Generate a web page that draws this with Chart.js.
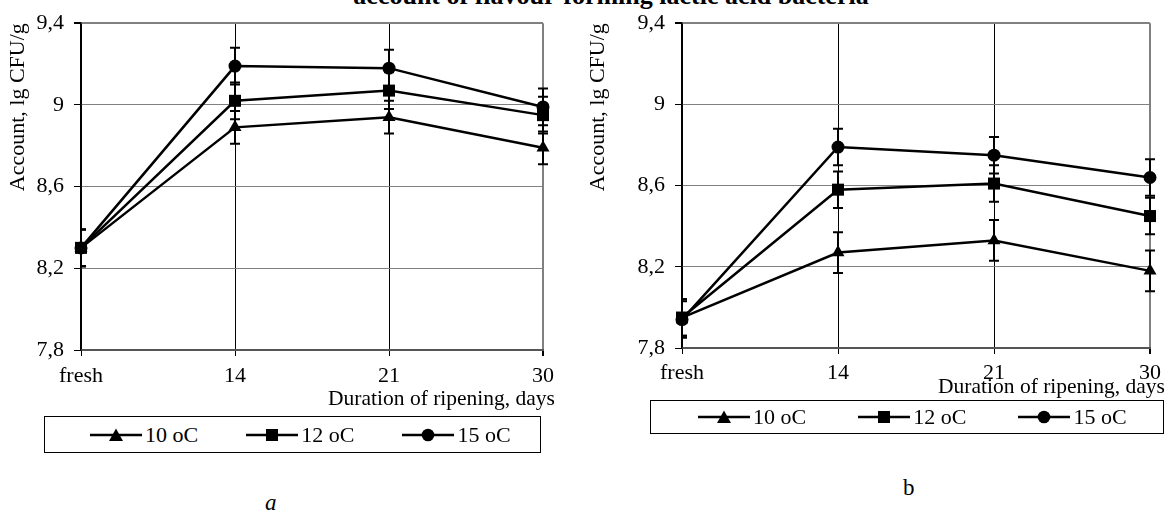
<!DOCTYPE html>
<html><head><meta charset="utf-8">
<script src="https://cdn.jsdelivr.net/npm/chart.js@4.4.1/dist/chart.umd.min.js"></script>
<style>
body{margin:0;width:1173px;height:531px;background:#fff;position:relative;overflow:hidden;font-family:"Liberation Serif","Times New Roman",serif;color:#000;}
canvas{position:absolute;}
.title{position:absolute;left:300px;width:622px;top:-19px;text-align:center;font-weight:bold;font-size:26px;white-space:nowrap;}
.xt{position:absolute;font-size:21.5px;white-space:nowrap;text-align:right;line-height:25px;}
.legend{position:absolute;box-sizing:border-box;border:1px solid #000;display:flex;align-items:center;font-size:22px;}
.item{display:flex;align-items:center;white-space:nowrap;}
.item svg{margin-right:3px;}
.cap{position:absolute;font-size:23px;}
</style></head><body>
<div class="title">account of flavour-forming lactic acid bacteria</div>
<canvas id="cA" width="575" height="410" style="left:0;top:0"></canvas>
<canvas id="cB" width="593" height="408" style="left:580px;top:0"></canvas>
<div class="xt" id="xtA" style="right:618px;top:386px"></div>
<div class="xt" id="xtB" style="right:8px;top:374px"></div>
<div class="legend" id="legA" style="left:44px;top:416px;width:497px;height:37px;gap:48px;padding-left:45px"></div>
<div class="legend" id="legB" style="left:650px;top:400px;width:514px;height:34px;gap:52px;padding-left:47px"></div>
<div class="cap" style="left:265px;top:490px;font-style:italic">a</div>
<div class="cap" style="left:903px;top:475px">b</div>
<script>
// ---- data ----
const categories = ['fresh', '14', '21', '30'];
const seriesNames = ['10 oC', '12 oC', '15 oC'];
const yTickValues = [7.8, 8.2, 8.6, 9.0, 9.4];
const xTitle = 'Duration of ripening, days';
const yTitle = 'Account, lg CFU/g';

// chart a
const a10 = [8.30, 8.89, 8.94, 8.79];
const a12 = [8.30, 9.02, 9.07, 8.95];
const a15 = [8.30, 9.19, 9.18, 8.99];
const a10err = [0.09, 0.08, 0.08, 0.08];
const a12err = [0.09, 0.09, 0.09, 0.09];
const a15err = [0.09, 0.09, 0.09, 0.09];

// chart b
const b10 = [7.95, 8.27, 8.33, 8.18];
const b12 = [7.95, 8.58, 8.61, 8.45];
const b15 = [7.94, 8.79, 8.75, 8.64];
const b10err = [0.09, 0.10, 0.10, 0.10];
const b12err = [0.09, 0.09, 0.09, 0.09];
const b15err = [0.09, 0.09, 0.09, 0.09];

const FONT = '"Liberation Serif", "Times New Roman", serif';
const styles = [
  {pointStyle: 'triangle', radius: 7.5},
  {pointStyle: 'rect', radius: 8.5},
  {pointStyle: 'circle', radius: 6.5}
];

const errorBars = {
  id: 'errorBars',
  afterDatasetsDraw(chart) {
    const ctx = chart.ctx, y = chart.scales.y, ca = chart.chartArea;
    ctx.save();
    ctx.beginPath();
    ctx.rect(ca.left, 0, chart.width - ca.left, chart.height);
    ctx.clip();
    ctx.strokeStyle = '#000';
    ctx.lineWidth = 2;
    chart.data.datasets.forEach((ds, i) => {
      const meta = chart.getDatasetMeta(i);
      meta.data.forEach((pt, j) => {
        const v = ds.data[j], e = ds.errors[j];
        const yt = y.getPixelForValue(v + e), yb = y.getPixelForValue(v - e);
        ctx.beginPath();
        ctx.moveTo(pt.x, yt); ctx.lineTo(pt.x, yb);
        ctx.moveTo(pt.x - 5, yt); ctx.lineTo(pt.x + 5, yt);
        ctx.moveTo(pt.x - 5, yb); ctx.lineTo(pt.x + 5, yb);
        ctx.stroke();
      });
    });
    ctx.restore();
  }
};

function makeChart(id, series, errs, cfg) {
  const datasets = series.map((d, i) => ({
    label: seriesNames[i],
    data: d,
    errors: errs[i],
    borderColor: '#000',
    backgroundColor: '#000',
    borderWidth: 2.5,
    pointStyle: styles[i].pointStyle,
    pointRadius: styles[i].radius,
    pointBorderWidth: 0,
    pointBackgroundColor: '#000',
    tension: 0,
    clip: false
  }));
  return new Chart(document.getElementById(id), {
    type: 'line',
    data: {labels: categories, datasets},
    plugins: [errorBars],
    options: {
      responsive: false, animation: false, devicePixelRatio: 1,
      layout: {padding: {top: cfg.top, right: cfg.right, bottom: 0, left: 0}},
      plugins: {legend: {display: false}, tooltip: {enabled: false}},
      scales: {
        x: {
          type: 'category', offset: false,
          grid: {
            color: c => c.index === 3 ? '#808080' : '#000',
            lineWidth: c => c.index === 3 ? 2 : 1,
            tickColor: '#000', tickLength: 6
          },
          border: {color: '#555', width: 2},
          ticks: {color: '#000', font: {family: FONT, size: 22}, padding: cfg.xpad, maxRotation: 0},
          title: {display: false},
          afterFit(s) { s.height = cfg.xh; }
        },
        y: {
          min: 7.8, max: 9.4,
          afterBuildTicks(s) { s.ticks = yTickValues.map(v => ({value: v})); },
          grid: {
            color: '#808080',
            lineWidth: c => (c.tick && c.tick.value === 9.4) ? 2 : 1,
            tickColor: '#000', tickLength: 7
          },
          border: {color: '#000', width: 1.5},
          ticks: {color: '#000', font: {family: FONT, size: 22}, padding: cfg.ypad,
                  callback: v => String(v).replace('.', ',')},
          title: {display: true, text: yTitle, align: 'end', color: '#000',
                  font: {family: FONT, size: 22}, padding: {top: cfg.ytp, bottom: 0}},
          afterFit(s) { s.width = cfg.yw; }
        }
      }
    }
  });
}

makeChart('cA', [a10, a12, a15], [a10err, a12err, a15err],
  {top: 18, right: 32, xh: 60, yw: 81, xpad: 7, ypad: 10, ytp: 5});
makeChart('cB', [b10, b12, b15], [b10err, b12err, b15err],
  {top: 22, right: 23, xh: 60, yw: 102, xpad: 6, ypad: 10, ytp: 5});

document.getElementById('xtA').textContent = xTitle;
document.getElementById('xtB').textContent = xTitle;

// HTML legends
function markerSvg(kind) {
  let m = '';
  if (kind === 'triangle') m = '<polygon points="26,0.5 33,13 19,13" fill="#000"/>';
  else if (kind === 'rect') m = '<rect x="20" y="1" width="12" height="12" fill="#000"/>';
  else m = '<circle cx="26" cy="7" r="6.3" fill="#000"/>';
  return '<svg width="52" height="14" viewBox="0 0 52 14"><line x1="0" y1="7" x2="52" y2="7" stroke="#000" stroke-width="2.5"/>' + m + '</svg>';
}
['legA', 'legB'].forEach(id => {
  document.getElementById(id).innerHTML = seriesNames.map((n, i) =>
    '<div class="item">' + markerSvg(styles[i].pointStyle) + '<span>' + n + '</span></div>').join('');
});
</script>
</body></html>
